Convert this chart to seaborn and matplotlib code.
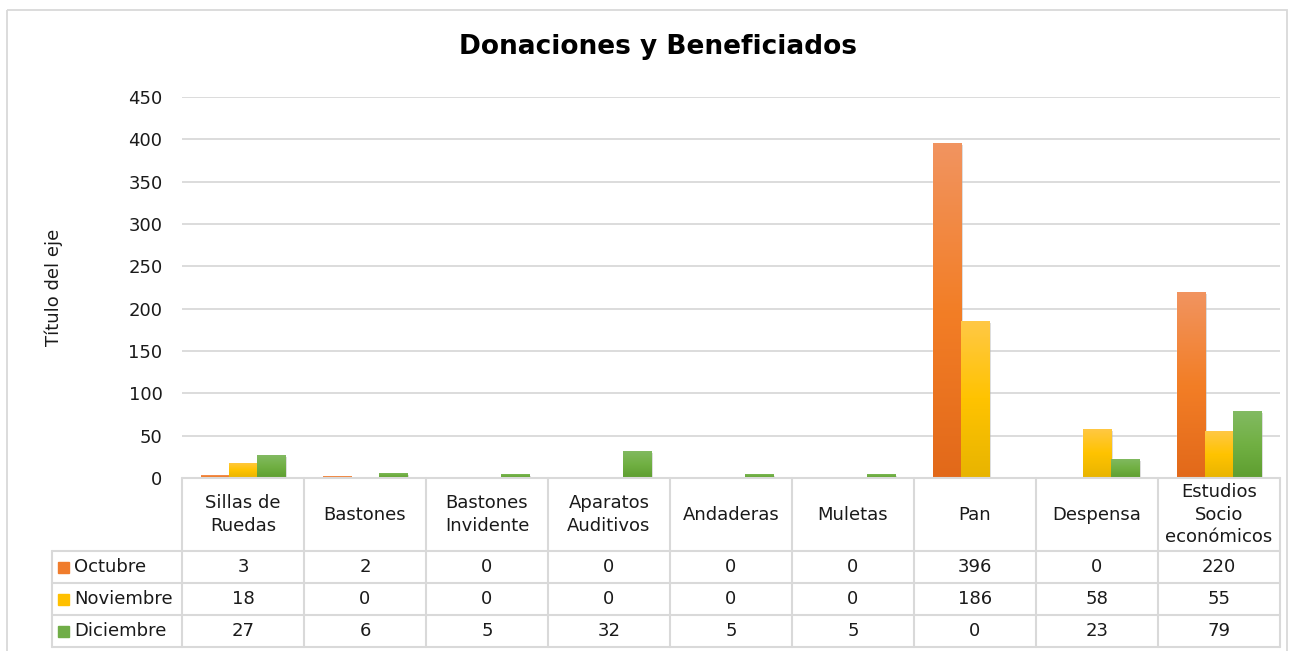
import numpy as np
import pandas as pd
import matplotlib.pyplot as plt
import matplotlib.patheffects as pe
from matplotlib.colors import to_rgb
from matplotlib.patches import Rectangle
import seaborn as sns

sns.set_style('white')
plt.rcParams['font.family'] = ['DejaVu Sans']

# --- data ---
categories = ['Sillas de\nRuedas', 'Bastones', 'Bastones\nInvidente', 'Aparatos\nAuditivos',
              'Andaderas', 'Muletas', 'Pan', 'Despensa', 'Estudios\nSocio\neconómicos']
months = ['Octubre', 'Noviembre', 'Diciembre']
octubre = [3, 2, 0, 0, 0, 0, 396, 0, 220]
noviembre = [18, 0, 0, 0, 0, 0, 186, 58, 55]
diciembre = [27, 6, 5, 32, 5, 5, 0, 23, 79]
y_ticks = [0, 50, 100, 150, 200, 250, 300, 350, 400, 450]

series = {'Octubre': octubre, 'Noviembre': noviembre, 'Diciembre': diciembre}
colors = {'Octubre': '#F07C2C', 'Noviembre': '#FFC000', 'Diciembre': '#70AD47'}
# top / middle / bottom of the Excel-like gradient
shades = {'Octubre': ('#F19460', '#F37E26', '#E2691A'),
          'Noviembre': ('#FFC845', '#FFC300', '#E8B400'),
          'Diciembre': ('#82BA62', '#71B043', '#5E9E30')}

df = pd.DataFrame([(c, m, v) for m in months for c, v in zip(categories, series[m])],
                  columns=['categoria', 'mes', 'valor'])

W, H = 1294, 651
left, right, y0, ytop = 182, 1280, 478, 97
colw = (right - left) / len(categories)

fig = plt.figure(figsize=(W / 100, H / 100), dpi=100)
ax = fig.add_axes([left / W, 1 - y0 / H, (right - left) / W, (y0 - ytop) / H])

sns.barplot(data=df, x='categoria', y='valor', hue='mes', hue_order=months,
            palette=colors, saturation=1, width=0.69, gap=0, errorbar=None,
            legend=False, ax=ax, order=categories)

# gradient fill clipped to each bar
for cont, m in zip(ax.containers, months):
    top, mid, bot = (np.array(to_rgb(c)) for c in shades[m])
    t = np.linspace(0, 1, 64)[:, None]
    grad = np.where(t < 0.5, bot + (mid - bot) * (t / 0.5), mid + (top - mid) * ((t - 0.5) / 0.5))
    img = grad[:, None, :]
    for bar in cont:
        bar.set_path_effects([pe.SimplePatchShadow(offset=(1.5, -1.5), shadow_rgbFace='#888888', alpha=0.35),
                              pe.Normal()])
        x, yb, w, h = bar.get_x(), bar.get_y(), bar.get_width(), bar.get_height()
        if h <= 0:
            continue
        im = ax.imshow(img, extent=[x, x + w, yb, yb + h], origin='lower',
                       aspect='auto', zorder=bar.get_zorder() + 0.1, interpolation='bilinear')
        im.set_clip_path(bar)

ax.set_xlim(-0.5, len(categories) - 0.5)
ax.set_ylim(0, 450)
ax.set_yticks(y_ticks)
ax.set_xticks([])
ax.set_xlabel('')
ax.grid(axis='y', color='#D9D9D9', lw=1.3)
ax.set_axisbelow(True)
for s in ax.spines.values():
    s.set_visible(False)
ax.tick_params(axis='y', length=0, pad=14, labelsize=13, labelcolor='#1A1A1A')
ax.set_ylabel('Título del eje', fontsize=13, color='#1A1A1A')
ax.yaxis.set_label_coords((63 - left) / (right - left), 0.5)

# overlay in pixel coordinates: border, title, data table
ov = fig.add_axes([0, 0, 1, 1])
ov.set_xlim(0, W)
ov.set_ylim(H, 0)
ov.set_axis_off()
ov.add_patch(Rectangle((7, 10), 1280, 660, fill=False, ec='#D9D9D9', lw=1.3))
ov.text(658, 47, 'Donaciones y Beneficiados', ha='center', va='center',
        fontsize=19, fontweight='bold', color='#000000')

grid_c = '#D9D9D9'
leg_left = 52
row_y = [551, 583, 615, 647]
ov.plot([left, right], [y0, y0], color=grid_c, lw=1.5)
for yy in row_y:
    ov.plot([leg_left, right], [yy, yy], color=grid_c, lw=1.5)
for k in range(len(categories) + 1):
    ov.plot([left + k * colw] * 2, [y0, row_y[-1]], color=grid_c, lw=1.5)
ov.plot([leg_left, leg_left], [row_y[0], row_y[-1]], color=grid_c, lw=1.5)

for i, cat in enumerate(categories):
    xc = left + (i + 0.5) * colw
    ov.text(xc, (y0 + row_y[0]) / 2, cat, ha='center', va='center',
            fontsize=13, linespacing=1.35, color='#1A1A1A')
    for r, m in enumerate(months):
        yc = (row_y[r] + row_y[r + 1]) / 2
        ov.text(xc, yc, str(series[m][i]), ha='center', va='center',
                fontsize=13, color='#1A1A1A')

for r, m in enumerate(months):
    yc = (row_y[r] + row_y[r + 1]) / 2
    ov.add_patch(Rectangle((58, yc - 5.5), 11, 11, color=colors[m]))
    ov.text(74, yc, m, ha='left', va='center', fontsize=13, color='#1A1A1A')

fig.savefig('out.png', dpi=100)
